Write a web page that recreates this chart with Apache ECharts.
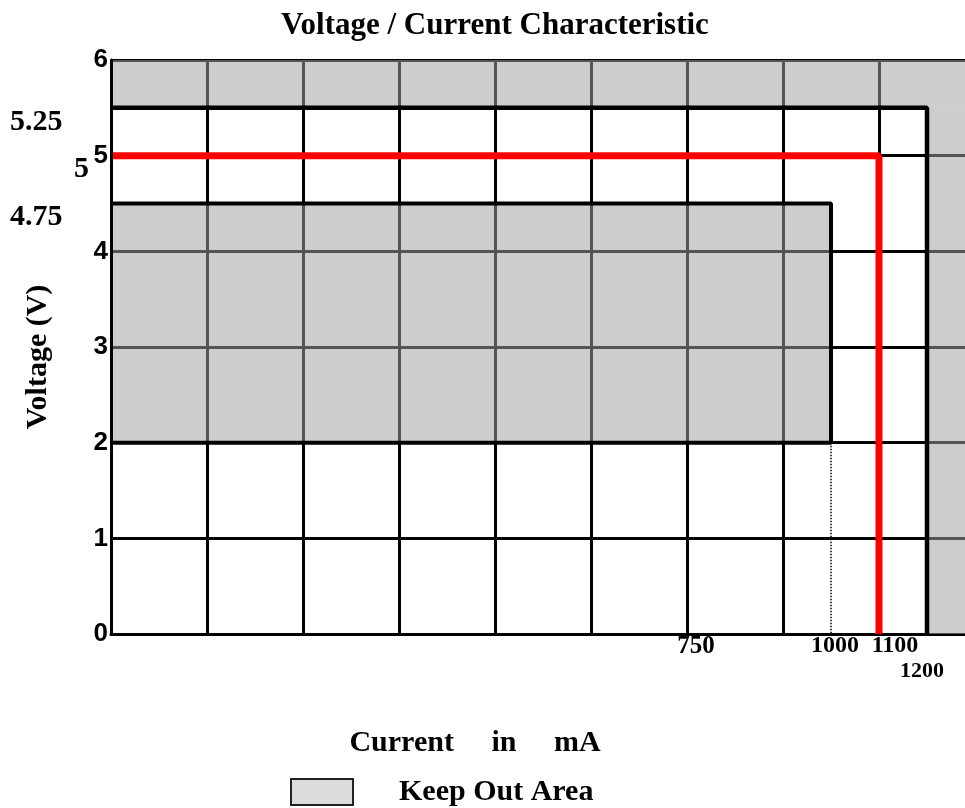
<!DOCTYPE html>
<html>
<head>
<meta charset="utf-8">
<script src="https://cdn.jsdelivr.net/npm/echarts@6/dist/echarts.min.js"></script>
<style>
  html, body { margin: 0; padding: 0; background: #fff; }
  #chart { width: 965px; height: 808px; }
</style>
</head>
<body>
<div id="chart"></div>
<script>
// x axis is in grid columns: the sketch is schematic, not to mA scale
var currentLabels = ['750', '1000', '1100', '1200'];
var currentAt = [6, 7.5, 8, 8.5];
var limitLabels = ['5.25', '5', '4.75'];
var limitAt = [5.5, 5, 4.5];

// keep out areas: [x0, x1, y0, y1]
var keepOut = [
  [0, 9, 5.5, 6],
  [8.5, 9, 0, 5.5],
  [0, 7.5, 2, 4.5]
];
var outerEdge = [[0, 5.5], [8.5, 5.5], [8.5, 0]];
var innerEdge = [[0, 4.5], [7.5, 4.5], [7.5, 2], [0, 2]];
var dropLine = [[7.5, 2], [7.5, 0]];
var supply = [[0, 5], [8, 5], [8, 0]];

var serif = 'Liberation Serif';
var sans = 'Liberation Sans';

var chart = echarts.init(document.getElementById('chart'));

function edge(data, width, color, type, z) {
  return {
    type: 'line',
    data: data,
    symbol: 'none',
    z: z,
    lineStyle: { width: width, color: color, type: type || 'solid' }
  };
}

var xRich = {
  l0: { fontFamily: serif, fontWeight: 'bold', fontSize: 25, color: '#000', padding: [0, 0, 0, 18] },
  l1: { fontFamily: serif, fontWeight: 'bold', fontSize: 24, color: '#000', padding: [0, 0, 0, 8] },
  l2: { fontFamily: serif, fontWeight: 'bold', fontSize: 24, color: '#000', padding: [0, 0, 0, 32] },
  l3: { fontFamily: serif, fontWeight: 'bold', fontSize: 22, color: '#000', padding: [26, 10, 0, 0] }
};

chart.setOption({
  animation: false,
  title: {
    text: 'Voltage / Current Characteristic',
    left: 281,
    top: 10,
    padding: 0,
    textStyle: { fontFamily: serif, fontWeight: 'bold', fontSize: 31, color: '#000' }
  },
  legend: {
    left: 290,
    top: 777,
    padding: 0,
    itemWidth: 62,
    itemHeight: 26,
    selectedMode: false,
    data: [{
      name: 'Keep Out Area',
      icon: 'rect',
      itemStyle: { color: '#dcdcdc', borderColor: '#222', borderWidth: 2 }
    }],
    textStyle: { fontFamily: serif, fontWeight: 'bold', fontSize: 30, color: '#000', padding: [0, 0, 0, 41] }
  },
  // nine columns of 96px; the last half column runs off the page
  grid: { left: 111, width: 864, top: 60, bottom: 174, containLabel: false, outerBoundsMode: 'none' },
  xAxis: {
    type: 'value',
    min: 0,
    max: 9,
    interval: 1,
    axisLine: { show: true, lineStyle: { color: '#000', width: 3 } },
    axisTick: { show: false },
    splitLine: { show: true, lineStyle: { color: '#000', width: 3 } },
    axisLabel: {
      customValues: currentAt,
      hideOverlap: false,
      margin: 0,
      formatter: function (v) {
        var i = currentAt.indexOf(v);
        return '{l' + i + '|' + currentLabels[i] + '}';
      },
      rich: xRich
    }
  },
  yAxis: [{
    type: 'value',
    min: 0,
    max: 6,
    interval: 1,
    axisLine: { show: false },
    axisTick: { show: false },
    splitLine: { show: true, lineStyle: { color: '#000', width: 3 } },
    axisLabel: { fontFamily: sans, fontWeight: 'bold', fontSize: 26, color: '#000', margin: 3 }
  }, {
    type: 'value',
    min: 0,
    max: 6,
    position: 'left',
    z: 10,
    axisLine: { show: true, lineStyle: { color: '#000', width: 3 } },
    axisTick: { show: false },
    axisLabel: { show: false },
    splitLine: { show: false }
  }],
  series: [
    {
      name: 'Keep Out Area',
      type: 'custom',
      z: 2,
      encode: { x: [0, 1], y: [2, 3] },
      data: keepOut,
      renderItem: function (params, api) {
        var p0 = api.coord([api.value(0), api.value(3)]);
        var p1 = api.coord([api.value(1), api.value(2)]);
        return {
          type: 'rect',
          shape: { x: p0[0], y: p0[1], width: p1[0] - p0[0], height: p1[1] - p0[1] },
          style: { fill: 'rgba(160,160,160,0.53)' }
        };
      }
    },
    edge(outerEdge, 4.5, '#000', 'solid', 3),
    edge(innerEdge, 4, '#000', 'solid', 3),
    edge(dropLine, 1.5, '#000', 'dotted', 3),
    edge(supply, 7, '#ff0000', 'solid', 4)
  ]
});

// labels that sit beside the axis; y positions come from the axis scale
var labelX = [10, 74, 10];
var texts = limitLabels.map(function (t, i) {
  var y = chart.convertToPixel({ yAxisIndex: 0 }, limitAt[i]);
  return {
    type: 'text',
    x: labelX[i],
    y: y + 14,
    style: {
      text: t,
      fontFamily: serif,
      fontWeight: 'bold',
      fontSize: 30,
      fill: '#000',
      align: 'left',
      verticalAlign: 'middle'
    }
  };
});
texts.push({
  type: 'text',
  x: 38,
  y: 357,
  rotation: Math.PI / 2,
  style: {
    text: 'Voltage (V)',
    fontFamily: serif, fontWeight: 'bold', fontSize: 30, fill: '#000',
    align: 'center', verticalAlign: 'middle'
  }
});
texts.push({
  type: 'text',
  x: 475,
  y: 743,
  style: {
    text: 'Current     in     mA',
    fontFamily: serif, fontWeight: 'bold', fontSize: 30, fill: '#000',
    align: 'center', verticalAlign: 'middle'
  }
});
chart.setOption({ graphic: texts });
</script>
</body>
</html>
